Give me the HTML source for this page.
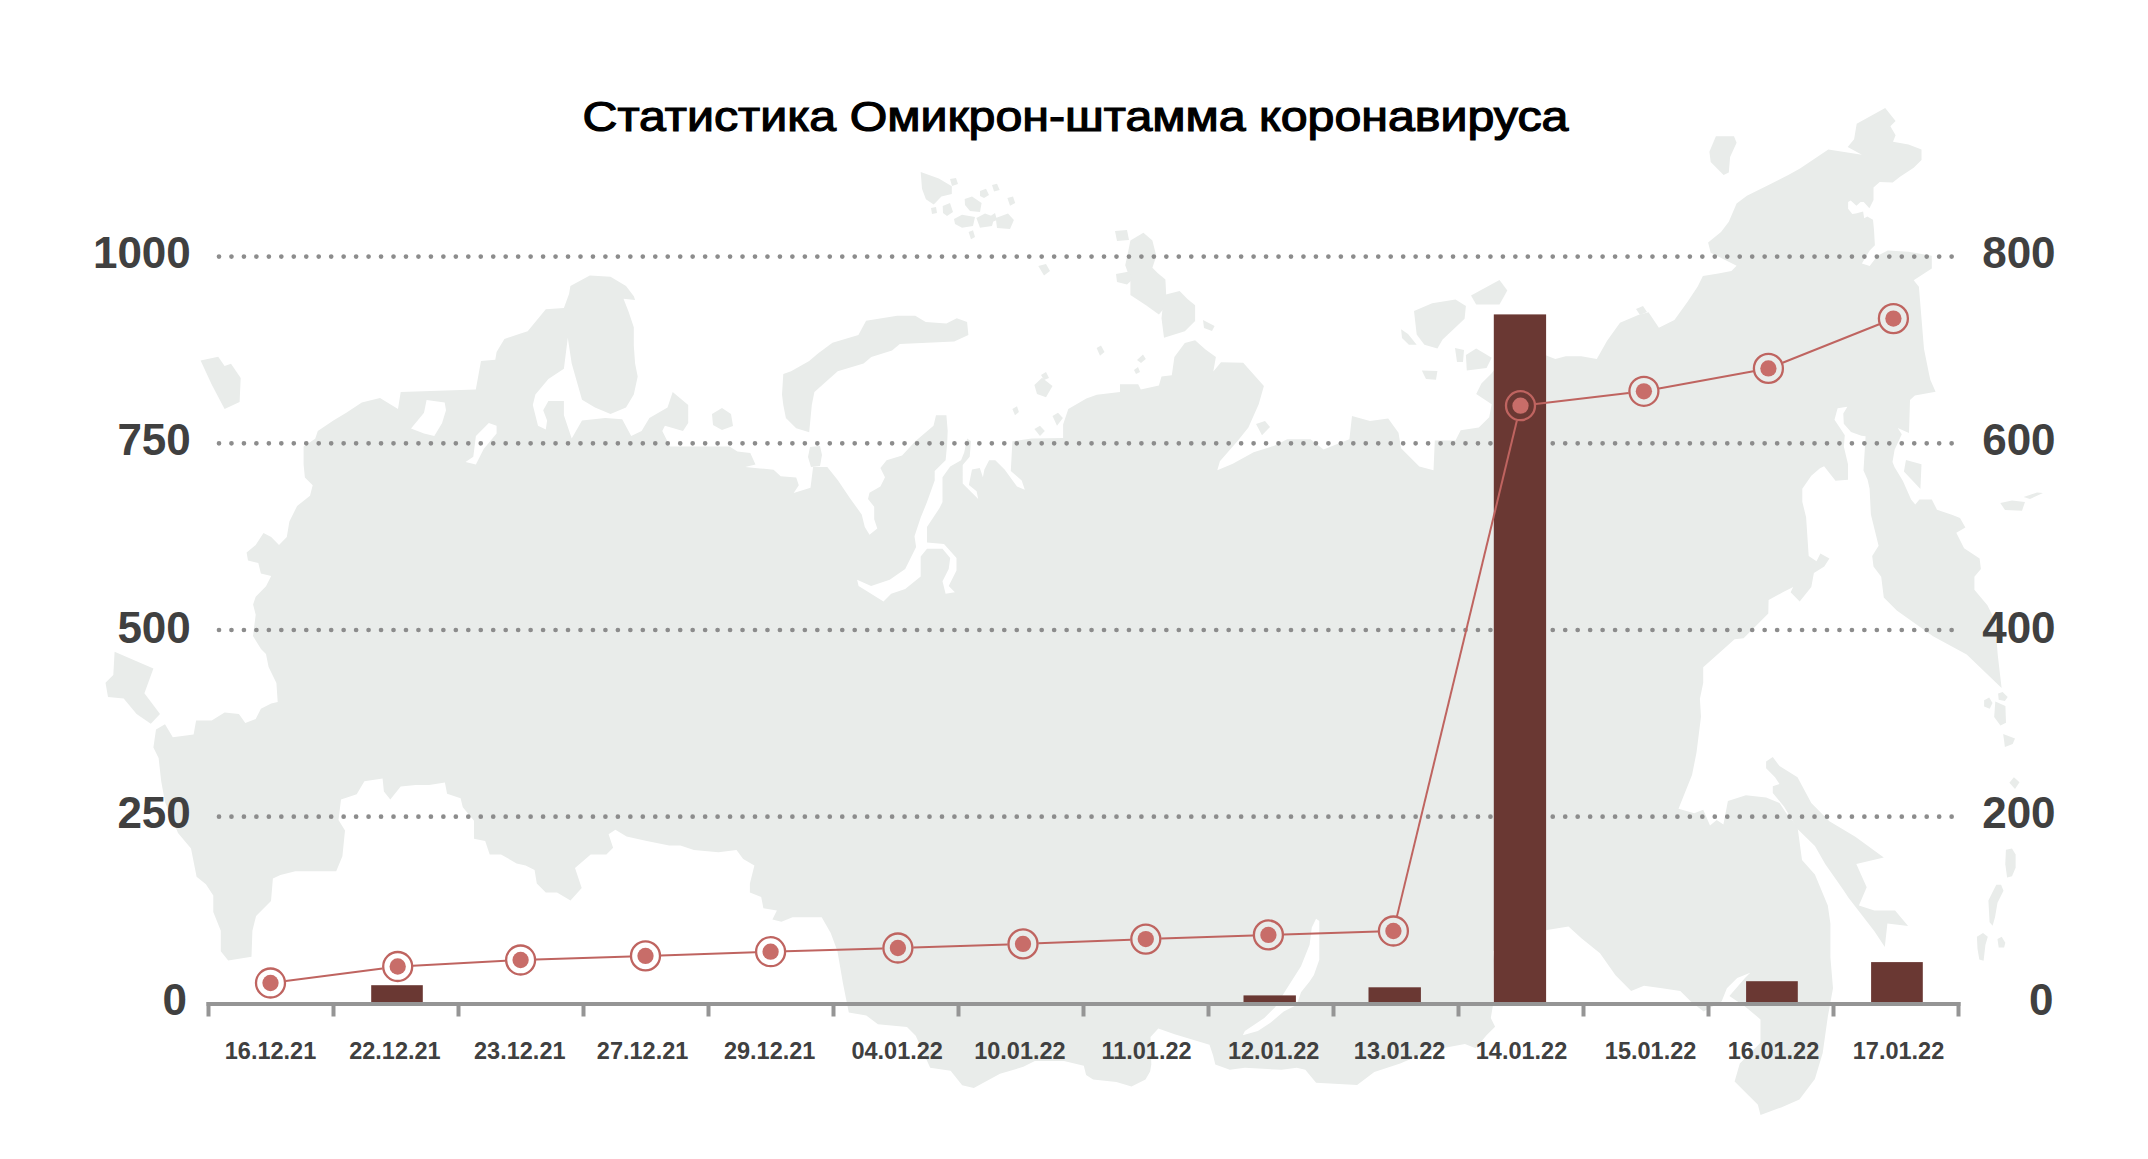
<!DOCTYPE html><html><head><meta charset="utf-8"><style>
html,body{margin:0;padding:0;background:#fff;}
body{width:2148px;height:1159px;overflow:hidden;position:relative;font-family:"Liberation Sans",sans-serif;}
svg{position:absolute;left:0;top:0;}
.t{font-family:"Liberation Sans",sans-serif;}
</style></head><body>
<svg width="2148" height="1159" viewBox="0 0 2148 1159">
<rect width="2148" height="1159" fill="#fff"/>
<g fill="#e9ecea">
<polygon points="481.0,361.0 495.3,359.7 496.6,352.0 504.4,339.0 519.9,333.8 527.7,331.2 545.8,309.2 563.9,307.9 569.1,293.7 570.4,285.9 589.8,275.5 610.5,276.8 626.0,285.9 633.8,296.2 635.1,300.1 623.5,298.8 628.6,311.8 633.8,327.3 633.8,345.4 635.1,363.6 637.7,376.5 633.8,394.6 626.0,407.6 610.5,414.0 595.0,407.6 582.0,399.8 576.9,381.7 571.7,363.6 567.8,337.7 563.9,368.7 548.4,379.0 535.4,394.6 532.8,405.0 538.0,425.7 545.8,429.6 547.1,420.5 543.2,410.2 548.4,401.0 563.9,401.0 563.9,415.3 571.7,438.6 582.0,420.5 605.3,418.0 622.2,419.2 631.2,436.0 641.6,430.9 649.4,418.0 667.5,407.6 672.7,392.0 688.2,405.0 688.2,423.1 683.0,430.9 664.9,425.7 662.3,430.9 670.0,446.4 696.0,446.4 729.6,446.4 737.4,451.6 750.3,452.9 755.5,464.5 745.2,467.1 760.0,468.4 773.6,469.7 780.7,476.2 796.2,477.5 798.8,485.2 793.7,493.0 810.5,487.8 813.1,467.1 827.3,467.1 837.7,480.0 850.0,498.2 861.7,514.5 864.8,527.0 869.5,534.7 877.3,528.5 874.2,519.2 874.2,506.8 868.0,499.0 869.5,492.8 880.4,486.6 885.0,477.3 880.4,468.0 886.6,460.2 902.1,455.5 915.3,441.2 933.5,425.7 936.0,415.3 946.4,415.3 947.7,430.9 947.1,444.7 945.6,460.2 934.7,471.1 934.7,480.4 927.0,502.1 920.7,517.6 914.5,536.3 916.1,547.1 905.2,568.9 889.7,579.8 871.1,586.0 857.1,579.8 858.6,586.0 883.5,601.5 891.2,593.7 905.2,589.1 920.7,576.6 920.7,556.5 927.0,548.7 942.5,548.7 950.2,558.0 948.7,568.9 942.5,581.3 945.6,593.7 954.9,592.2 948.7,586.0 956.5,570.4 956.5,558.0 944.0,544.0 927.0,542.5 927.0,527.0 939.4,508.3 942.5,502.1 942.5,477.3 950.2,466.4 961.1,460.2 964.2,452.4 967.1,438.6 971.0,441.2 969.7,456.8 962.7,465.0 962.7,483.5 978.2,499.0 976.6,491.2 968.9,485.0 972.0,469.5 979.8,468.0 982.9,477.3 984.4,469.5 989.1,460.2 995.3,460.2 1004.6,469.5 1017.0,486.6 1024.8,489.7 1021.7,480.4 1010.8,471.1 1012.4,441.2 1031.8,438.6 1063.1,438.0 1063.1,424.4 1068.3,408.9 1086.4,398.5 1096.8,394.7 1120.0,392.0 1120.0,384.3 1138.2,384.3 1140.8,389.5 1158.9,385.6 1161.5,376.5 1171.8,375.2 1174.4,357.1 1184.8,342.9 1195.1,340.3 1205.5,349.4 1215.9,357.1 1213.3,371.4 1221.0,362.3 1243.2,362.8 1263.9,386.1 1258.7,404.3 1248.4,427.6 1238.0,440.5 1219.9,461.2 1217.3,470.3 1232.8,463.8 1253.6,452.2 1274.3,445.7 1287.2,439.2 1310.5,439.2 1323.5,449.6 1349.4,439.2 1352.0,415.9 1370.0,421.1 1388.2,418.5 1398.5,432.7 1401.1,448.3 1419.3,466.4 1433.5,470.3 1434.8,440.5 1455.5,440.5 1460.7,430.2 1478.8,427.6 1489.2,417.2 1491.7,404.3 1476.2,393.9 1481.4,383.6 1491.7,373.2 1500.0,362.0 1545.0,355.0 1555.3,358.9 1565.7,356.3 1581.2,356.3 1596.8,358.9 1607.1,340.8 1620.0,322.7 1638.2,314.9 1648.5,312.3 1658.9,327.8 1674.4,320.1 1687.4,301.9 1697.7,286.4 1702.9,276.0 1718.4,273.5 1731.4,270.9 1736.6,265.7 1726.2,260.5 1710.7,252.8 1708.1,242.4 1721.0,232.0 1728.8,221.7 1736.6,203.6 1746.9,195.8 1767.6,185.4 1788.3,175.1 1800.0,168.6 1828.3,149.5 1861.9,154.7 1847.7,147.0 1854.1,139.2 1856.7,123.7 1885.2,108.1 1895.6,121.1 1890.4,126.2 1895.6,135.3 1893.0,141.8 1908.5,144.4 1921.5,149.5 1921.5,159.9 1913.7,167.7 1900.0,176.7 1892.7,182.4 1879.7,181.9 1873.5,187.6 1873.5,200.0 1869.4,208.3 1863.7,202.1 1860.6,202.1 1856.4,205.7 1850.7,200.6 1848.1,202.1 1848.1,208.8 1852.3,214.0 1855.9,213.5 1863.1,211.4 1864.2,218.2 1867.3,216.6 1873.0,219.7 1874.0,230.0 1874.9,245.3 1869.7,250.5 1861.9,263.5 1869.7,266.0 1877.5,255.7 1887.8,250.5 1908.5,251.8 1931.8,255.7 1931.8,268.6 1913.7,280.3 1918.9,286.8 1924.0,348.9 1929.2,374.8 1930.4,380.0 1935.6,391.7 1914.9,395.5 1910.0,400.0 1909.0,433.0 1897.7,428.0 1901.8,434.2 1894.6,449.7 1892.5,462.1 1894.6,467.3 1902.8,480.8 1911.1,499.4 1915.3,504.6 1919.4,499.4 1931.8,499.4 1937.0,509.8 1952.5,515.0 1960.0,518.0 1965.4,527.6 1956.3,532.7 1964.1,548.3 1979.6,558.6 1980.9,569.0 1974.4,576.8 1974.4,589.7 1987.4,605.2 1995.1,620.8 1997.7,654.4 2001.6,688.0 1966.7,654.4 1933.0,636.3 1896.8,610.4 1883.8,597.5 1881.2,576.8 1873.5,566.4 1872.2,556.0 1878.6,545.7 1870.9,514.6 1869.6,488.7 1867.6,479.7 1863.5,470.4 1865.6,436.2 1861.4,435.7 1851.0,432.1 1843.8,423.8 1843.3,413.5 1847.4,406.7 1837.6,408.3 1834.5,419.7 1840.7,429.0 1844.8,435.2 1843.8,446.6 1848.0,464.2 1848.0,479.7 1835.5,480.8 1824.1,466.3 1820.0,468.3 1811.3,475.8 1802.3,488.7 1802.3,501.7 1806.1,517.2 1808.7,556.0 1816.5,561.2 1820.4,553.5 1829.4,558.6 1824.3,566.4 1813.9,572.9 1811.3,587.1 1799.7,601.4 1790.6,592.3 1793.2,587.1 1782.8,592.3 1768.6,600.1 1768.3,613.5 1743.6,638.2 1734.6,639.3 1703.2,667.3 1703.2,683.0 1699.9,698.7 1701.0,716.7 1696.5,752.6 1692.0,775.0 1678.5,808.7 1694.3,813.2 1703.2,809.8 1710.0,825.5 1716.7,819.9 1723.4,824.4 1727.9,800.9 1745.9,795.2 1766.1,797.5 1779.5,803.1 1786.3,813.2 1797.5,826.7 1802.0,860.0 1814.9,874.4 1827.8,905.4 1830.4,923.6 1830.4,957.2 1833.0,988.3 1827.8,1016.8 1822.7,1053.0 1814.9,1078.9 1799.4,1099.6 1781.2,1107.4 1760.5,1115.1 1757.9,1104.8 1734.6,1081.5 1739.8,1063.4 1760.5,1042.7 1760.5,1019.4 1745.0,1006.4 1729.4,996.0 1745.0,977.9 1750.2,972.7 1737.2,977.9 1726.9,988.3 1721.7,1001.2 1703.6,1011.6 1690.6,1001.2 1680.3,990.9 1662.1,988.3 1644.0,985.7 1631.1,990.9 1615.5,975.3 1600.0,953.3 1581.4,938.2 1568.5,926.4 1547.0,930.0 1493.0,951.0 1494.0,960.0 1493.0,1005.0 1490.8,1018.0 1495.1,1026.7 1486.5,1035.3 1475.7,1048.3 1464.9,1043.9 1430.4,1050.4 1400.2,1063.4 1374.3,1072.0 1357.1,1084.9 1316.1,1082.8 1305.3,1069.8 1296.7,1067.7 1281.6,1069.8 1244.9,1067.7 1229.8,1069.8 1215.3,1064.5 1213.0,1055.2 1209.5,1044.7 1174.6,1034.2 1158.3,1028.4 1150.5,1037.0 1151.3,1064.5 1150.1,1071.5 1145.5,1079.6 1131.5,1086.6 1116.4,1082.0 1093.1,1079.6 1086.1,1075.0 1083.8,1065.7 1064.0,1061.0 1034.9,1061.0 1023.3,1066.8 1000.0,1073.8 973.8,1088.1 962.2,1085.2 950.6,1070.7 930.2,1067.8 915.7,1035.8 907.0,1027.0 877.9,1024.2 866.3,1015.5 848.8,1012.6 843.0,983.5 837.4,950.9 830.7,932.9 821.7,917.2 792.6,917.2 781.4,921.7 772.4,919.5 776.9,910.5 763.4,908.2 761.2,897.0 749.9,892.5 749.9,883.6 754.4,865.6 743.2,858.9 736.5,849.9 718.5,852.2 693.9,849.9 680.4,845.4 669.2,845.4 646.8,841.0 626.6,836.5 615.4,829.7 608.6,834.2 613.1,847.7 606.4,854.4 590.7,854.4 575.0,867.9 581.7,888.1 570.5,900.4 557.0,892.5 545.8,892.5 536.8,883.6 534.6,870.1 525.6,865.6 516.6,863.4 501.0,854.4 489.7,854.4 485.2,841.0 474.0,838.7 474.0,820.8 462.8,807.3 460.6,798.3 447.1,793.8 444.9,782.6 429.2,784.9 415.7,784.9 400.7,786.4 390.3,799.4 383.9,791.6 382.6,778.6 364.4,781.2 356.7,794.2 341.0,799.4 338.5,820.0 345.0,830.4 342.4,856.3 336.2,871.2 295.3,871.2 280.4,874.9 272.9,878.6 271.0,901.0 256.1,915.9 252.4,930.8 251.5,956.8 228.2,960.6 220.8,951.2 220.8,930.8 213.3,912.0 213.3,895.4 205.9,884.2 196.6,876.8 191.0,848.5 178.0,833.0 165.0,802.0 161.2,781.2 158.6,758.0 153.4,747.6 156.0,729.4 165.0,724.3 172.8,737.2 193.6,734.6 196.1,720.4 211.7,720.4 224.6,712.6 238.9,714.0 245.3,723.0 255.7,719.0 260.9,708.7 271.2,703.6 277.7,702.0 276.4,683.0 268.6,667.0 266.0,654.0 261.0,649.0 253.0,636.0 255.7,614.8 253.1,604.4 255.7,596.7 266.0,586.3 271.2,576.0 260.9,573.4 258.3,563.0 248.0,560.4 246.6,552.6 255.7,545.0 263.5,533.0 271.2,537.0 279.0,545.0 286.8,537.0 289.4,521.6 297.1,506.0 310.0,495.7 312.7,485.3 304.9,477.6 303.6,464.6 303.6,446.5 315.2,438.7 317.8,431.0 333.4,420.6 346.3,412.8 361.8,402.5 380.0,398.0 398.0,409.0 400.7,392.0 475.8,389.5"/>
<polygon points="783.3,373.9 791.1,371.3 809.2,361.0 818.3,353.2 832.5,342.8 858.4,335.1 866.1,320.8 897.2,315.7 915.3,315.7 925.7,322.1 946.4,323.4 956.8,318.3 967.1,322.1 968.4,335.1 954.2,341.6 899.8,344.1 892.0,350.6 871.3,357.1 863.6,363.6 837.7,371.3 827.3,380.4 814.4,392.0 811.8,405.0 809.2,432.2 796.2,428.3 785.9,417.9 783.3,405.0 782.0,394.6"/>
<polygon points="810.0,447.0 820.0,446.0 822.0,455.0 820.0,466.0 811.0,467.0 808.0,457.0"/>
<polygon points="712.0,414.0 722.0,408.0 731.0,414.0 733.0,426.0 722.0,430.0 713.0,425.0"/>
<polygon points="114.6,651.8 141.8,663.4 153.4,668.6 144.4,693.2 160.0,714.0 150.8,723.8 136.6,714.0 123.7,698.4 108.0,697.0 105.5,682.8 113.3,675.0"/>
<polygon points="200.6,360.5 218.2,356.7 224.6,366.0 231.0,363.7 240.7,377.9 239.6,402.0 224.6,409.0 211.7,384.4"/>
<polygon points="920.7,172.0 938.8,178.5 951.8,186.2 951.8,194.0 941.4,196.6 933.7,204.4 925.9,199.2 922.0,188.8"/>
<polygon points="964.7,199.0 972.0,196.6 981.6,203.0 980.0,212.0 970.0,211.0 965.0,205.0"/>
<polygon points="980.0,191.0 986.0,188.8 989.0,195.0 984.0,198.0 980.0,196.0"/>
<polygon points="942.7,206.0 950.0,203.0 953.0,212.0 947.0,216.0 943.0,213.0"/>
<polygon points="954.0,219.0 962.0,214.7 975.0,217.0 973.0,226.0 962.0,227.7 955.0,224.0"/>
<polygon points="976.4,218.0 985.0,213.4 994.5,217.0 992.0,226.0 980.0,227.7"/>
<polygon points="995.8,218.0 1008.0,213.4 1013.9,220.0 1010.0,229.0 997.0,228.0"/>
<polygon points="1007.4,198.0 1013.0,196.6 1015.2,203.0 1010.0,205.7"/>
<polygon points="992.0,185.0 997.0,183.7 999.7,190.0 994.0,191.4"/>
<polygon points="989.0,217.0 995.0,213.0 997.0,220.0 992.0,222.0"/>
<polygon points="968.6,232.0 973.0,230.3 975.0,237.0 971.0,239.3"/>
<polygon points="950.0,179.0 956.0,178.0 958.0,184.0 952.0,186.0"/>
<polygon points="931.0,208.0 936.0,207.0 937.0,213.0 932.0,214.0"/>
<polygon points="1115.0,231.0 1127.0,230.0 1129.0,240.0 1117.0,241.0"/>
<polygon points="1130.4,240.6 1143.4,232.8 1152.4,240.6 1156.3,256.1 1152.4,267.8 1157.6,273.0 1165.4,279.5 1166.7,305.3 1158.9,314.4 1146.0,305.3 1130.4,295.0 1130.4,279.5 1125.2,265.2 1127.8,253.6"/>
<polygon points="1116.0,274.0 1128.0,271.7 1133.0,279.0 1127.0,284.6 1117.0,282.0"/>
<polygon points="1164.0,295.0 1179.6,291.1 1187.4,298.9 1195.1,305.3 1195.1,320.9 1184.8,331.2 1164.0,337.7 1161.5,318.3"/>
<polygon points="1203.0,320.0 1214.6,326.0 1212.0,331.0 1204.0,328.0"/>
<polygon points="1038.3,266.0 1046.0,263.9 1050.0,271.0 1044.0,275.5"/>
<polygon points="1096.6,348.0 1101.0,345.4 1104.5,352.0 1100.0,355.8"/>
<polygon points="1137.0,360.0 1143.0,354.5 1145.8,359.0 1141.0,363.0"/>
<polygon points="1134.0,370.0 1138.0,367.0 1140.0,372.0 1136.0,374.0"/>
<polygon points="1034.4,385.0 1042.0,377.8 1052.5,386.0 1046.0,397.2 1037.0,394.0"/>
<polygon points="1041.0,375.0 1046.0,372.0 1049.0,378.0 1044.0,380.0"/>
<polygon points="1012.4,409.0 1017.0,406.3 1018.9,412.0 1015.0,415.3"/>
<polygon points="1034.4,429.0 1040.0,425.7 1044.8,431.0 1040.0,436.0"/>
<polygon points="1052.5,416.0 1058.0,412.8 1062.9,418.0 1057.0,425.7"/>
<polygon points="1256.0,424.0 1265.0,421.0 1270.0,427.0 1262.0,435.3"/>
<polygon points="1414.0,311.0 1432.2,303.3 1455.5,299.4 1465.9,305.9 1464.6,318.8 1442.6,339.5 1437.4,348.6 1424.4,344.7 1416.7,334.4"/>
<polygon points="1471.0,295.5 1499.5,280.0 1507.3,290.4 1499.5,304.6 1476.2,304.6"/>
<polygon points="1401.1,329.2 1408.0,334.0 1416.7,344.7 1408.9,344.7 1402.0,338.0"/>
<polygon points="1465.9,355.1 1476.2,348.6 1491.7,357.7 1486.6,368.0 1466.8,370.6"/>
<polygon points="1455.0,348.0 1464.0,350.0 1463.0,362.0 1457.0,362.0"/>
<polygon points="1421.8,370.6 1437.4,371.0 1436.0,379.7 1426.0,379.0"/>
<polygon points="1636.0,309.0 1643.0,306.0 1647.0,312.0 1640.0,315.0"/>
<polygon points="1709.4,151.8 1715.9,136.2 1734.0,136.2 1736.6,142.7 1730.1,157.0 1728.8,172.5 1723.6,175.1 1710.7,162.1"/>
<polygon points="1906.0,460.0 1921.5,464.2 1920.4,489.0 1903.9,471.4"/>
<polygon points="2000.3,503.0 2012.0,500.4 2025.0,502.0 2022.0,510.7 2005.0,510.0"/>
<polygon points="2023.6,497.0 2037.0,492.6 2043.0,493.0 2030.0,499.0"/>
<polygon points="1998.1,693.6 2002.6,691.9 2007.7,696.9 2004.9,700.9 1998.7,699.7"/>
<polygon points="1984.1,700.3 1989.2,697.5 1992.5,703.1 1989.7,708.7 1984.1,706.5"/>
<polygon points="1995.3,701.4 2005.4,705.9 2006.0,722.7 2000.4,725.5 1994.2,717.1"/>
<polygon points="2003.2,734.0 2015.0,738.4 2012.7,744.1 2004.9,746.9"/>
<polygon points="2013.9,777.2 2019.5,782.2 2015.0,788.9 2009.4,782.8"/>
<polygon points="2005.9,849.7 2012.0,848.5 2015.6,854.5 2015.6,867.8 2012.0,876.3 2007.1,877.5 2005.3,864.2"/>
<polygon points="1996.3,884.7 2001.1,884.7 2003.5,890.8 1997.5,902.8 1995.0,917.3 1992.6,925.8 1989.6,922.2 1988.4,900.4 1992.6,892.0"/>
<polygon points="1976.9,936.7 1983.0,933.0 1987.8,936.7 1985.4,945.1 1983.6,960.8 1979.3,959.6 1977.5,948.8"/>
<polygon points="1997.5,939.1 2001.7,936.7 2005.3,942.7 2004.1,947.6 1998.7,947.6"/>
<polygon points="1766.1,761.6 1772.8,757.1 1779.5,766.1 1797.5,777.3 1811.3,803.1 1829.4,821.2 1855.3,836.8 1883.8,857.5 1856.3,864.0 1866.7,887.3 1858.9,905.4 1874.4,910.6 1895.1,910.6 1908.1,926.1 1887.4,923.6 1884.8,946.9 1874.4,931.3 1848.5,897.7 1843.4,889.9 1825.2,864.0 1814.9,845.9 1797.5,828.9 1784.0,806.5 1772.8,793.0 1772.8,786.3 1779.5,784.0 1775.0,777.3 1766.1,768.3"/>
</g>
<g fill="#fff">
<polygon points="426.6,400.0 444.7,402.5 446.0,410.3 442.0,423.2 434.3,436.0 424.0,433.6 411.0,428.4 424.0,412.8"/>
<polygon points="496.6,425.7 488.8,423.1 475.9,436.0 473.3,456.8 465.5,462.0 475.9,464.5 483.7,449.0 496.6,433.5"/>
<polygon points="1316.1,918.8 1319.3,921.0 1319.3,959.8 1313.9,974.9 1309.6,981.4 1301.0,992.2 1296.7,1005.1 1283.7,1011.6 1270.8,1022.4 1257.9,1031.0 1242.8,1035.3 1244.9,1031.0 1264.3,1018.0 1275.1,1007.3 1285.9,990.0 1301.0,966.3 1309.6,944.7 1311.8,927.5"/>
</g>
<text class="t" x="1075.5" y="131" text-anchor="middle" font-size="43" font-weight="normal" fill="#000" stroke="#000" stroke-width="1.2" textLength="986" lengthAdjust="spacingAndGlyphs">Статистика Омикрон-штамма коронавируса</text>
<line x1="219" y1="256.6" x2="1951.7" y2="256.6" stroke="#8c8c8c" stroke-width="4.7" stroke-linecap="round" stroke-dasharray="0 12.465"/>
<line x1="219" y1="443.3" x2="1951.7" y2="443.3" stroke="#8c8c8c" stroke-width="4.7" stroke-linecap="round" stroke-dasharray="0 12.465"/>
<line x1="219" y1="630.0" x2="1951.7" y2="630.0" stroke="#8c8c8c" stroke-width="4.7" stroke-linecap="round" stroke-dasharray="0 12.465"/>
<line x1="219" y1="816.7" x2="1951.7" y2="816.7" stroke="#8c8c8c" stroke-width="4.7" stroke-linecap="round" stroke-dasharray="0 12.465"/>
<text class="t" x="190.8" y="268.0" text-anchor="end" font-size="44" font-weight="bold" fill="#404040">1000</text>
<text class="t" x="190.8" y="454.7" text-anchor="end" font-size="44" font-weight="bold" fill="#404040">750</text>
<text class="t" x="190.8" y="643.4" text-anchor="end" font-size="44" font-weight="bold" fill="#404040">500</text>
<text class="t" x="190.8" y="828.1" text-anchor="end" font-size="44" font-weight="bold" fill="#404040">250</text>
<text class="t" x="186.9" y="1014.8" text-anchor="end" font-size="44" font-weight="bold" fill="#404040">0</text>
<text class="t" x="2055.6" y="268.0" text-anchor="end" font-size="44" font-weight="bold" fill="#404040">800</text>
<text class="t" x="2055.6" y="454.7" text-anchor="end" font-size="44" font-weight="bold" fill="#404040">600</text>
<text class="t" x="2055.6" y="643.4" text-anchor="end" font-size="44" font-weight="bold" fill="#404040">400</text>
<text class="t" x="2055.6" y="828.1" text-anchor="end" font-size="44" font-weight="bold" fill="#404040">200</text>
<text class="t" x="2053.4" y="1014.8" text-anchor="end" font-size="44" font-weight="bold" fill="#404040">0</text>
<rect x="371.2" y="985.2" width="51.6" height="18.8" fill="#6a3833"/>
<rect x="1243.5" y="995.4" width="52.4" height="8.6" fill="#6a3833"/>
<rect x="1368.5" y="987.3" width="52.4" height="16.7" fill="#6a3833"/>
<rect x="1493.8" y="314.4" width="52.3" height="689.6" fill="#6a3833"/>
<rect x="1746.1" y="981.2" width="51.7" height="22.8" fill="#6a3833"/>
<rect x="1871.1" y="962.1" width="51.7" height="41.9" fill="#6a3833"/>
<rect x="206.5" y="1002" width="1754" height="4" fill="#959595"/>
<rect x="206.5" y="1002" width="4" height="14.5" fill="#959595"/>
<rect x="331.5" y="1002" width="4" height="14.5" fill="#959595"/>
<rect x="456.5" y="1002" width="4" height="14.5" fill="#959595"/>
<rect x="581.5" y="1002" width="4" height="14.5" fill="#959595"/>
<rect x="706.5" y="1002" width="4" height="14.5" fill="#959595"/>
<rect x="831.5" y="1002" width="4" height="14.5" fill="#959595"/>
<rect x="956.5" y="1002" width="4" height="14.5" fill="#959595"/>
<rect x="1081.5" y="1002" width="4" height="14.5" fill="#959595"/>
<rect x="1206.5" y="1002" width="4" height="14.5" fill="#959595"/>
<rect x="1331.5" y="1002" width="4" height="14.5" fill="#959595"/>
<rect x="1456.5" y="1002" width="4" height="14.5" fill="#959595"/>
<rect x="1581.5" y="1002" width="4" height="14.5" fill="#959595"/>
<rect x="1706.5" y="1002" width="4" height="14.5" fill="#959595"/>
<rect x="1831.5" y="1002" width="4" height="14.5" fill="#959595"/>
<rect x="1956.5" y="1002" width="4" height="14.5" fill="#959595"/>
<line x1="285.67" y1="981.03" x2="382.53" y2="968.47" stroke="#bf6460" stroke-width="2"/>
<line x1="412.98" y1="965.69" x2="505.32" y2="960.81" stroke="#bf6460" stroke-width="2"/>
<line x1="535.89" y1="959.50" x2="630.21" y2="956.40" stroke="#bf6460" stroke-width="2"/>
<line x1="660.79" y1="955.39" x2="755.31" y2="952.21" stroke="#bf6460" stroke-width="2"/>
<line x1="785.89" y1="951.26" x2="882.61" y2="948.44" stroke="#bf6460" stroke-width="2"/>
<line x1="913.19" y1="947.50" x2="1007.71" y2="944.40" stroke="#bf6460" stroke-width="2"/>
<line x1="1038.29" y1="943.30" x2="1130.51" y2="939.70" stroke="#bf6460" stroke-width="2"/>
<line x1="1161.09" y1="938.58" x2="1253.11" y2="935.42" stroke="#bf6460" stroke-width="2"/>
<line x1="1283.69" y1="934.42" x2="1378.11" y2="931.48" stroke="#bf6460" stroke-width="2"/>
<line x1="1397.00" y1="916.13" x2="1516.90" y2="420.57" stroke="#bf6460" stroke-width="2"/>
<line x1="1535.70" y1="403.93" x2="1628.70" y2="393.07" stroke="#bf6460" stroke-width="2"/>
<line x1="1658.95" y1="388.53" x2="1753.35" y2="371.17" stroke="#bf6460" stroke-width="2"/>
<line x1="1782.61" y1="362.74" x2="1879.19" y2="324.26" stroke="#bf6460" stroke-width="2"/>
<circle cx="270.5" cy="983.0" r="14.5" fill="none" stroke="#bf6460" stroke-width="2.3"/>
<circle cx="270.5" cy="983.0" r="8.15" fill="#c86d69"/>
<circle cx="397.7" cy="966.5" r="14.5" fill="none" stroke="#bf6460" stroke-width="2.3"/>
<circle cx="397.7" cy="966.5" r="8.15" fill="#c86d69"/>
<circle cx="520.6" cy="960.0" r="14.5" fill="none" stroke="#bf6460" stroke-width="2.3"/>
<circle cx="520.6" cy="960.0" r="8.15" fill="#c86d69"/>
<circle cx="645.5" cy="955.9" r="14.5" fill="none" stroke="#bf6460" stroke-width="2.3"/>
<circle cx="645.5" cy="955.9" r="8.15" fill="#c86d69"/>
<circle cx="770.6" cy="951.7" r="14.5" fill="none" stroke="#bf6460" stroke-width="2.3"/>
<circle cx="770.6" cy="951.7" r="8.15" fill="#c86d69"/>
<circle cx="897.9" cy="948.0" r="14.5" fill="none" stroke="#bf6460" stroke-width="2.3"/>
<circle cx="897.9" cy="948.0" r="8.15" fill="#c86d69"/>
<circle cx="1023.0" cy="943.9" r="14.5" fill="none" stroke="#bf6460" stroke-width="2.3"/>
<circle cx="1023.0" cy="943.9" r="8.15" fill="#c86d69"/>
<circle cx="1145.8" cy="939.1" r="14.5" fill="none" stroke="#bf6460" stroke-width="2.3"/>
<circle cx="1145.8" cy="939.1" r="8.15" fill="#c86d69"/>
<circle cx="1268.4" cy="934.9" r="14.5" fill="none" stroke="#bf6460" stroke-width="2.3"/>
<circle cx="1268.4" cy="934.9" r="8.15" fill="#c86d69"/>
<circle cx="1393.4" cy="931.0" r="14.5" fill="none" stroke="#bf6460" stroke-width="2.3"/>
<circle cx="1393.4" cy="931.0" r="8.15" fill="#c86d69"/>
<circle cx="1520.5" cy="405.7" r="14.5" fill="none" stroke="#bf6460" stroke-width="2.3"/>
<circle cx="1520.5" cy="405.7" r="8.15" fill="#c86d69"/>
<circle cx="1643.9" cy="391.3" r="14.5" fill="none" stroke="#bf6460" stroke-width="2.3"/>
<circle cx="1643.9" cy="391.3" r="8.15" fill="#c86d69"/>
<circle cx="1768.4" cy="368.4" r="14.5" fill="none" stroke="#bf6460" stroke-width="2.3"/>
<circle cx="1768.4" cy="368.4" r="8.15" fill="#c86d69"/>
<circle cx="1893.4" cy="318.6" r="14.5" fill="none" stroke="#bf6460" stroke-width="2.3"/>
<circle cx="1893.4" cy="318.6" r="8.15" fill="#c86d69"/>
<text class="t" x="270.5" y="1058.8" text-anchor="middle" font-size="23.5" font-weight="bold" fill="#404040" >16.12.21</text>
<text class="t" x="394.9" y="1058.8" text-anchor="middle" font-size="23.5" font-weight="bold" fill="#404040" >22.12.21</text>
<text class="t" x="519.8" y="1058.8" text-anchor="middle" font-size="23.5" font-weight="bold" fill="#404040" >23.12.21</text>
<text class="t" x="642.6" y="1058.8" text-anchor="middle" font-size="23.5" font-weight="bold" fill="#404040" >27.12.21</text>
<text class="t" x="769.7" y="1058.8" text-anchor="middle" font-size="23.5" font-weight="bold" fill="#404040" >29.12.21</text>
<text class="t" x="897.2" y="1058.8" text-anchor="middle" font-size="23.5" font-weight="bold" fill="#404040" >04.01.22</text>
<text class="t" x="1019.9" y="1058.8" text-anchor="middle" font-size="23.5" font-weight="bold" fill="#404040" >10.01.22</text>
<text class="t" x="1146.5" y="1058.8" text-anchor="middle" font-size="23.5" font-weight="bold" fill="#404040" >11.01.22</text>
<text class="t" x="1273.7" y="1058.8" text-anchor="middle" font-size="23.5" font-weight="bold" fill="#404040" >12.01.22</text>
<text class="t" x="1399.6" y="1058.8" text-anchor="middle" font-size="23.5" font-weight="bold" fill="#404040" >13.01.22</text>
<text class="t" x="1521.5" y="1058.8" text-anchor="middle" font-size="23.5" font-weight="bold" fill="#404040" >14.01.22</text>
<text class="t" x="1650.6" y="1058.8" text-anchor="middle" font-size="23.5" font-weight="bold" fill="#404040" >15.01.22</text>
<text class="t" x="1773.5" y="1058.8" text-anchor="middle" font-size="23.5" font-weight="bold" fill="#404040" >16.01.22</text>
<text class="t" x="1898.5" y="1058.8" text-anchor="middle" font-size="23.5" font-weight="bold" fill="#404040" >17.01.22</text>
</svg></body></html>
